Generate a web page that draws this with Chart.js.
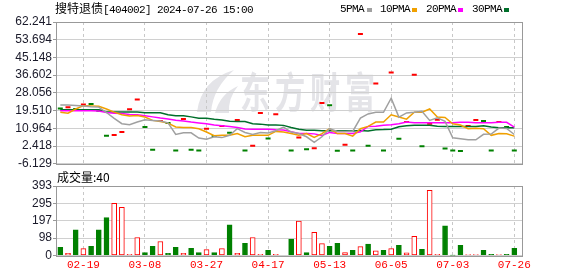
<!DOCTYPE html>
<html><head><meta charset="utf-8">
<script src="https://cdn.jsdelivr.net/npm/chart.js@4.4.1/dist/chart.umd.min.js"></script>
<style>
html,body{margin:0;padding:0;background:#fff;width:578px;height:276px;overflow:hidden;}
body{position:relative;}
canvas{position:absolute;left:0;}
#c1{top:0;}
#c2{top:170px;}
.t{position:absolute;white-space:nowrap;color:#000;line-height:1;}
.mono{font-family:'Liberation Mono',monospace;font-size:11px;letter-spacing:-0.6px;}
.sq{position:absolute;width:5px;height:4px;}
</style></head><body>
<canvas id="c1" width="578" height="172"></canvas>
<canvas id="c2" width="578" height="106"></canvas>
<div class="t" style="left:55px;top:2px;font-size:12px;"><span style="font-family:'Noto Sans CJK SC'">搜特退债</span><span class="mono">[404002] 2024-07-26 15:00</span></div>
<div class="t mono" style="left:340px;top:4px;">5PMA</div><div class="sq" style="left:367px;top:8px;background:#a0a0a0"></div>
<div class="t mono" style="left:380px;top:4px;">10PMA</div><div class="sq" style="left:412px;top:8px;background:#f0a000"></div>
<div class="t mono" style="left:426px;top:4px;">20PMA</div><div class="sq" style="left:458px;top:8px;background:#ff00ff"></div>
<div class="t mono" style="left:472px;top:4px;">30PMA</div><div class="sq" style="left:504px;top:8px;background:#006f2b"></div>
<div class="t" style="left:57px;top:171px;font-size:12px;font-family:'Noto Sans CJK SC'">成交量:40</div>
<script>
// ---- data ----
const xTickIdx = [3, 11, 19, 27, 35, 43, 51, 59];
const xTickLabels = ['02-19', '03-08', '03-27', '04-17', '05-13', '06-05', '07-03', '07-26'];
const priceTickLabels = ['62.241','53.694','45.148','36.602','28.056','19.510','10.964','2.418','-6.129'];
const volTickLabels = ['0','98','197','295','393'];
const watermark = '东方财富';

const close = [20.5,21.1,20.3,22.5,22.7,19.4,7.35,7.8,9.2,20.2,24.9,11.6,0.7,14.5,13.5,0.3,15.5,0.7,0.24,10.8,
 7.3,12.1,8.8,15.0,0.24,2.6,18.4,6.1,17.8,null,0.3,6.55,0.85,1.33,23.2,22.1,0.2,3.1,0.24,56.4,
 2.6,32.6,0.24,37.9,5.9,14.0,36.8,2.3,13.2,15.1,1.2,0.24,0.1,12.1,15.0,14.5,0.24,14.0,11.6,0.24];
const up = [0,1,0,1,0,0,0,1,1,1,1,0,0,1,0,0,1,0,0,1,
 0,1,0,1,0,1,1,0,1,0,0,1,0,1,1,0,0,1,0,1,
 0,1,0,1,0,1,1,0,1,1,0,0,0,1,1,0,0,1,0,0];
const volume = [46,12,145,39,52,145,214,295,272,6,102,17,52,79,12,46,12,40,17,33,
 17,39,174,12,69,102,6,29,6,0,93,195,17,131,67,52,69,17,29,50,
 64,27,29,39,58,15,108,35,368,6,168,1,58,5,5,29,6,5,6,40];
const ma5 = [22.2,22.2,22.0,21.7,21.4,21.2,18.6,15.8,13.2,12.7,14.0,15.1,14.8,14.5,13.6,8.0,8.8,8.8,6.3,5.7,
 6.9,6.5,7.6,10.8,9.0,8.0,9.0,8.7,9.8,11.6,9.2,8.45,6.9,4.2,6.9,10.8,9.5,9.5,9.5,15.9,
 17.9,18.7,18.7,25.5,16.4,18.4,18.7,19.2,14.8,16.0,14.3,6.4,5.9,5.45,5.45,8.1,8.2,11.1,10.9,8.0];
const ma10 = [18.7,18.3,20.3,21.9,21.8,21.6,20.3,18.8,17.5,16.9,17.1,16.4,14.8,14.3,13.5,11.6,11.4,11.4,10.8,9.2,
 7.4,7.6,7.6,8.45,6.9,7.6,7.6,7.6,9.5,9.2,8.45,7.6,8.45,6.6,8.45,10.8,8.45,8.45,7.2,10.8,
 11.9,14.0,14.0,17.5,16.4,15.4,18.7,18.7,20.3,16.4,16.2,13.2,12.6,10.8,11.0,10.8,7.6,8.45,8.4,7.2];
const ma20 = [19.5,19.5,19.5,19.5,19.4,19.3,18.6,18.3,18.1,17.7,17.5,17.0,16.5,15.9,15.5,14.9,14.5,14.0,13.6,13.2,
 12.6,12.2,11.8,11.4,10.7,10.5,10.5,10.5,10.3,10.2,9.3,8.5,8.45,8.3,7.5,9.0,8.5,8.45,8.45,9.3,
 11.9,12.0,12.5,12.7,13.2,14.0,13.7,13.7,13.7,13.7,13.7,13.7,13.9,13.9,13.7,13.7,13.7,13.9,13.9,11.6];
const ma30 = [19.9,19.9,19.9,19.9,19.9,19.9,18.9,18.9,18.9,18.9,18.9,18.5,18.5,18.5,17.5,17.0,17.0,16.5,15.8,15.8,
 15.3,15.0,14.4,14.3,14.3,13.2,13.0,12.6,12.6,12.4,11.4,10.5,10.0,10.0,9.8,9.8,9.8,9.8,9.7,9.9,
 9.7,10.3,10.35,10.5,11.7,12.2,12.4,12.4,12.4,12.0,11.9,11.9,11.9,11.9,11.9,12.2,11.6,11.3,11.3,11.3];

const RED = '#ff0000', GREEN = '#008000';
const pts = arr => arr.map((v, i) => ({x: i, y: v}));

const framePlugin = {
  id: 'frame',
  afterDraw(chart) {
    const {ctx, chartArea: a} = chart;
    ctx.save();
    ctx.strokeStyle = '#999';
    ctx.lineWidth = 1;
    ctx.strokeRect(Math.round(a.left) + 0.5, Math.round(a.top) + 0.5, Math.round(a.right - a.left), Math.round(a.bottom - a.top));
    ctx.restore();
  }
};

const watermarkPlugin = {
  id: 'wm',
  beforeDraw(chart) {
    const ctx = chart.ctx;
    ctx.save();
    ctx.fillStyle = '#e4e4e8';
    // logo swoosh
    ctx.beginPath();
    ctx.moveTo(197, 112); ctx.quadraticCurveTo(201, 80, 234, 70); ctx.quadraticCurveTo(213, 88, 211, 112); ctx.closePath(); ctx.fill();
    ctx.beginPath();
    ctx.moveTo(215, 113); ctx.quadraticCurveTo(220, 94, 238, 86); ctx.quadraticCurveTo(228, 98, 229, 113); ctx.closePath(); ctx.fill();
    ctx.font = 'bold 42px "Noto Sans CJK SC"';
    ctx.textBaseline = 'middle';
    ctx.textAlign = 'left';
    Array.from(watermark).forEach((c, i) => {
      ctx.save();
      ctx.translate(240 + i * 35, 92);
      ctx.scale(0.72, 1);
      ctx.fillText(c, 0, 0);
      ctx.restore();
    });
    ctx.restore();
  }
};

function xScale(showLabels) {
  return {
    type: 'linear', min: -0.56, max: 60.0, offset: false,
    afterBuildTicks: s => { s.ticks = xTickIdx.map(v => ({value: v})); },
    afterFit: s => { s.height = showLabels ? 20 : 0; },
    ticks: {
      display: showLabels, autoSkip: false, maxRotation: 0, padding: 3,
      color: RED, font: {family: "'Liberation Mono'", size: 11},
      callback: (v) => { const k = xTickIdx.indexOf(v); return k >= 0 ? xTickLabels[k] : ''; }
    },
    grid: {color: '#c8c8c8', lineWidth: 1, drawTicks: false, tickLength: 0, offset: false},
    border: {display: false, dash: [3, 3]}
  };
}

function yScale(min, max, labels) {
  const n = labels.length - 1;
  return {
    min: min, max: max,
    afterBuildTicks: s => { s.ticks = labels.map((l, i) => ({value: min + (max - min) * i / n})); },
    afterFit: s => { s.width = 56; },
    ticks: {
      autoSkip: false, padding: 1, color: '#1a1a2a', font: {family: "'Liberation Sans'", size: 12},
      callback: (v, i) => labels[i]
    },
    grid: {color: '#d0d0d0', lineWidth: 1, drawTicks: true, tickLength: 3, tickColor: '#999'},
    border: {display: false}
  };
}

function line(data, color) {
  return {type: 'line', data: pts(data), borderColor: color, borderWidth: 1.5, pointRadius: 0, tension: 0, fill: false, order: 1, spanGaps: true};
}

new Chart(document.getElementById('c1'), {
  type: 'scatter',
  data: {
    datasets: [
      line(ma5, '#a0a0a0'),
      line(ma10, '#f0a000'),
      line(ma20, '#ff00ff'),
      line(ma30, '#006f2b'),
      {type: 'scatter', data: pts(close), pointStyle: 'line', pointRadius: 2.5, borderWidth: 2,
       borderColor: up.map(u => u ? RED : GREEN), backgroundColor: up.map(u => u ? RED : GREEN), order: 10}
    ]
  },
  options: {
    responsive: false, animation: false, events: [],
    layout: {padding: {left: 0, right: 56, top: 22, bottom: 6}},
    plugins: {legend: {display: false}, tooltip: {enabled: false}},
    scales: {
      x: xScale(false),
      y: yScale(-6.129, 62.241, priceTickLabels.slice().reverse())
    }
  },
  plugins: [watermarkPlugin, framePlugin]
});

new Chart(document.getElementById('c2'), {
  type: 'bar',
  data: {
    datasets: [{
      data: pts(volume),
      barThickness: 5,
      backgroundColor: up.map(u => u ? '#ffffff' : GREEN),
      borderColor: up.map(u => u ? RED : GREEN),
      borderWidth: 1, borderSkipped: false
    }]
  },
  options: {
    responsive: false, animation: false, events: [],
    layout: {padding: {left: 0, right: 56, top: 16, bottom: 0.5}},
    plugins: {legend: {display: false}, tooltip: {enabled: false}},
    scales: {
      x: xScale(true),
      y: yScale(0, 393, volTickLabels)
    }
  },
  plugins: [framePlugin]
});
</script>
</body></html>
